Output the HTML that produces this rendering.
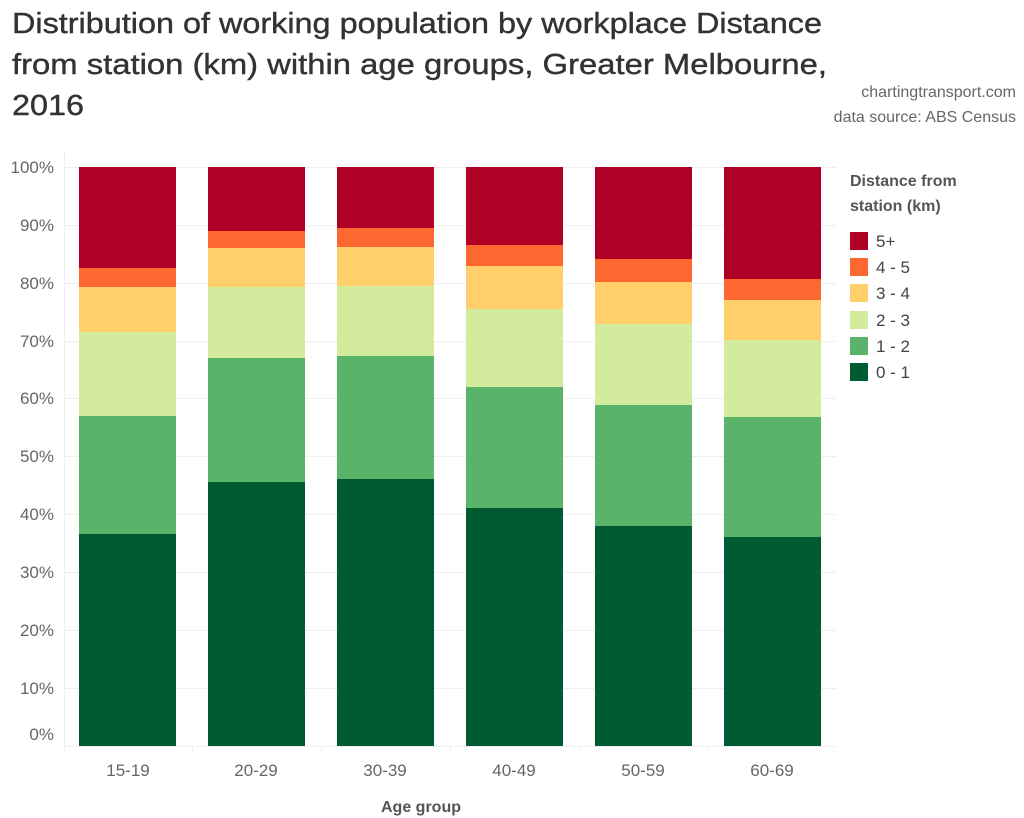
<!DOCTYPE html>
<html><head><meta charset="utf-8"><style>
html,body{margin:0;padding:0;background:#fff;}
svg{display:block;font-family:"Liberation Sans",sans-serif;}
</style></head><body>
<svg width="1024" height="818" viewBox="0 0 1024 818" xmlns="http://www.w3.org/2000/svg">
<g fill="#333" stroke="#333" stroke-width="0.4" font-size="29">
<text x="12" y="33" textLength="810" lengthAdjust="spacingAndGlyphs">Distribution of working population by workplace Distance</text>
<text x="12" y="74" textLength="815" lengthAdjust="spacingAndGlyphs">from station (km) within age groups, Greater Melbourne,</text>
<text x="12" y="115" textLength="72" lengthAdjust="spacingAndGlyphs">2016</text>
</g>
<g fill="#666" font-size="16" text-anchor="end">
<text x="1016" y="97">chartingtransport.com</text>
<text x="1016" y="122">data source: ABS Census</text>
</g>
<g stroke="#efefef" stroke-width="1">
<line x1="64" y1="167.5" x2="836" y2="167.5"/>
<line x1="64" y1="225.5" x2="836" y2="225.5"/>
<line x1="64" y1="283.5" x2="836" y2="283.5"/>
<line x1="64" y1="341.5" x2="836" y2="341.5"/>
<line x1="64" y1="398.5" x2="836" y2="398.5"/>
<line x1="64" y1="456.5" x2="836" y2="456.5"/>
<line x1="64" y1="514.5" x2="836" y2="514.5"/>
<line x1="64" y1="572.5" x2="836" y2="572.5"/>
<line x1="64" y1="630.5" x2="836" y2="630.5"/>
<line x1="64" y1="688.5" x2="836" y2="688.5"/>
<line x1="64.5" y1="150" x2="64.5" y2="746"/>
<line x1="64" y1="746.5" x2="836" y2="746.5"/>
<line x1="64.5" y1="746" x2="64.5" y2="752"/>
<line x1="192.5" y1="746" x2="192.5" y2="752"/>
<line x1="321.5" y1="746" x2="321.5" y2="752"/>
<line x1="450.5" y1="746" x2="450.5" y2="752"/>
<line x1="579.5" y1="746" x2="579.5" y2="752"/>
<line x1="708.5" y1="746" x2="708.5" y2="752"/>
</g>
<g fill="#666" font-size="17" text-anchor="end">
<text x="54" y="173">100%</text>
<text x="54" y="231">90%</text>
<text x="54" y="289">80%</text>
<text x="54" y="347">70%</text>
<text x="54" y="404">60%</text>
<text x="54" y="462">50%</text>
<text x="54" y="520">40%</text>
<text x="54" y="578">30%</text>
<text x="54" y="636">20%</text>
<text x="54" y="694">10%</text>
<text x="54" y="740">0%</text>
</g>
<g id="bars">
<rect x="79" y="167" width="97" height="101" fill="#b10026"/>
<rect x="79" y="268" width="97" height="19" fill="#fd6831"/>
<rect x="79" y="287" width="97" height="45" fill="#fecf6b"/>
<rect x="79" y="332" width="97" height="84" fill="#d2eb9d"/>
<rect x="79" y="416" width="97" height="118" fill="#59b46a"/>
<rect x="79" y="534" width="97" height="212" fill="#005a32"/>
<rect x="208" y="167" width="97" height="64" fill="#b10026"/>
<rect x="208" y="231" width="97" height="17" fill="#fd6831"/>
<rect x="208" y="248" width="97" height="39" fill="#fecf6b"/>
<rect x="208" y="287" width="97" height="71" fill="#d2eb9d"/>
<rect x="208" y="358" width="97" height="124" fill="#59b46a"/>
<rect x="208" y="482" width="97" height="264" fill="#005a32"/>
<rect x="337" y="167" width="97" height="61" fill="#b10026"/>
<rect x="337" y="228" width="97" height="19" fill="#fd6831"/>
<rect x="337" y="247" width="97" height="39" fill="#fecf6b"/>
<rect x="337" y="286" width="97" height="70" fill="#d2eb9d"/>
<rect x="337" y="356" width="97" height="123" fill="#59b46a"/>
<rect x="337" y="479" width="97" height="267" fill="#005a32"/>
<rect x="466" y="167" width="97" height="78" fill="#b10026"/>
<rect x="466" y="245" width="97" height="21" fill="#fd6831"/>
<rect x="466" y="266" width="97" height="43" fill="#fecf6b"/>
<rect x="466" y="309" width="97" height="78" fill="#d2eb9d"/>
<rect x="466" y="387" width="97" height="121" fill="#59b46a"/>
<rect x="466" y="508" width="97" height="238" fill="#005a32"/>
<rect x="595" y="167" width="97" height="92" fill="#b10026"/>
<rect x="595" y="259" width="97" height="23" fill="#fd6831"/>
<rect x="595" y="282" width="97" height="42" fill="#fecf6b"/>
<rect x="595" y="324" width="97" height="81" fill="#d2eb9d"/>
<rect x="595" y="405" width="97" height="121" fill="#59b46a"/>
<rect x="595" y="526" width="97" height="220" fill="#005a32"/>
<rect x="724" y="167" width="97" height="112" fill="#b10026"/>
<rect x="724" y="279" width="97" height="21" fill="#fd6831"/>
<rect x="724" y="300" width="97" height="40" fill="#fecf6b"/>
<rect x="724" y="340" width="97" height="77" fill="#d2eb9d"/>
<rect x="724" y="417" width="97" height="120" fill="#59b46a"/>
<rect x="724" y="537" width="97" height="209" fill="#005a32"/>
</g>
<g fill="#666" font-size="17" text-anchor="middle">
<text x="128" y="776">15-19</text>
<text x="256" y="776">20-29</text>
<text x="385" y="776">30-39</text>
<text x="514" y="776">40-49</text>
<text x="643" y="776">50-59</text>
<text x="772" y="776">60-69</text>
</g>
<text x="421" y="812" fill="#555" font-size="16" font-weight="bold" text-anchor="middle">Age group</text>
<g fill="#555" font-size="16" font-weight="bold">
<text x="850" y="186">Distance from</text>
<text x="850" y="211">station (km)</text>
</g>
<g>
<rect x="850" y="232" width="18" height="18" fill="#b10026"/>
<rect x="850" y="258" width="18" height="18" fill="#fd6831"/>
<rect x="850" y="284" width="18" height="18" fill="#fecf6b"/>
<rect x="850" y="311" width="18" height="18" fill="#d2eb9d"/>
<rect x="850" y="337" width="18" height="18" fill="#59b46a"/>
<rect x="850" y="363" width="18" height="18" fill="#005a32"/>
</g>
<g fill="#444" font-size="17">
<text x="876" y="247">5+</text>
<text x="876" y="273">4 - 5</text>
<text x="876" y="299">3 - 4</text>
<text x="876" y="326">2 - 3</text>
<text x="876" y="352">1 - 2</text>
<text x="876" y="378">0 - 1</text>
</g>
</svg>
</body></html>
